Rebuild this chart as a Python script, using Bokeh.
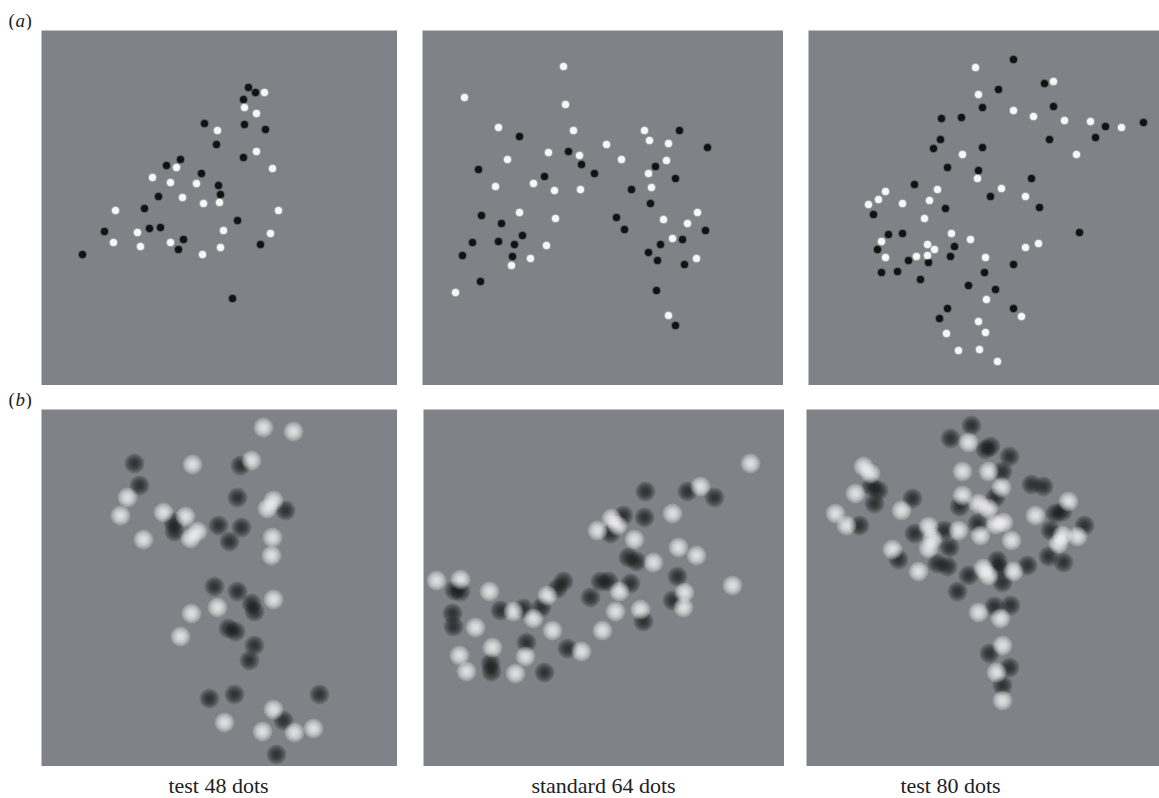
from bokeh.plotting import figure
from bokeh.layouts import column, row
from bokeh.models import Range1d, Spacer, ColumnDataSource
from bokeh.core.properties import value
from bokeh.embed import file_html
from bokeh.resources import INLINE

# ---------------- data: dot positions in panel pixels (x from left, y from top) -------------
a1_black = [(207,57),(214,62),(202,69),(203,94),(224,99),(163,93),(175,114),(202,127),(139,129),
            (125,135),(160,143),(177,155),(179,164),(117,166),(103,178),(196,190),(63,201),(108,198),
            (119,197),(142,209),(137,219),(219,214),(41,224),(191,268)]
a1_white = [(223,62),(203,77),(215,83),(176,100),(215,121),(231,138),(135,137),(111,147),(129,152),
            (155,153),(141,167),(162,173),(178,172),(74,180),(237,180),(182,200),(229,203),(96,202),
            (72,212),(129,212),(99,216),(179,217),(161,224)]

a2_white = [(141,36),(42,67),(143,74),(76,97),(151,100),(222,100),(227,110),(246,113),(184,114),
            (126,122),(157,125),(85,129),(199,129),(244,130),(226,143),(73,156),(111,153),(132,160),
            (158,159),(229,157),(97,182),(275,182),(133,188),(241,189),(265,193),(250,208),(124,215),
            (108,228),(274,228),(89,235),(33,262),(246,285)]
a2_black = [(257,100),(97,106),(285,117),(146,121),(159,134),(233,136),(56,139),(172,143),(122,146),
            (253,148),(209,159),(228,173),(59,185),(79,193),(194,187),(202,199),(283,200),(100,205),
            (50,212),(76,211),(92,214),(260,209),(238,214),(40,225),(90,226),(226,222),(235,230),
            (262,234),(58,251),(234,260),(253,295)]

a3_white = [(167,37),(245,51),(170,64),(205,80),(225,86),(256,90),(282,91),(313,97),(154,124),
            (268,124),(169,148),(193,158),(129,159),(217,166),(77,161),(70,169),(60,174),(94,173),
            (121,170),(116,188),(143,203),(162,209),(73,211),(119,214),(126,219),(230,213),(217,217),
            (77,227),(108,226),(119,225),(177,227),(178,269),(213,286),(170,291),(177,302),(138,303),
            (150,320),(171,319),(189,331)]
a3_black = [(205,29),(236,53),(190,59),(174,77),(245,76),(133,88),(153,87),(297,96),(335,92),
            (132,109),(125,118),(174,117),(241,109),(287,107),(139,137),(170,140),(223,148),(106,154),
            (182,166),(137,178),(231,177),(65,184),(80,204),(94,203),(271,202),(69,219),(146,216),
            (142,226),(100,230),(120,232),(205,234),(73,242),(89,241),(176,242),(112,249),(160,255),
            (187,259),(139,278),(131,288),(205,278)]

b1_white = [(222,18),(252,22),(151,55),(210,51),(86,88),(79,106),(122,103),(144,107),(102,130),
            (149,129),(156,122),(226,99),(232,91),(231,128),(230,146),(232,190),(176,198),(150,204),
            (139,227),(232,300),(183,313),(221,322),(253,323),(272,319)]
b1_black = [(93,54),(98,76),(199,56),(196,88),(244,101),(132,113),(133,122),(177,116),(200,118),
            (188,132),(173,177),(196,182),(210,194),(213,202),(187,219),(194,222),(213,236),(208,251),
            (168,289),(193,285),(278,285),(242,311),(235,345)]

b2_white = [(327,54),(277,77),(249,104),(188,109),(194,116),(174,121),(211,130),(255,138),(273,146),
            (230,153),(309,176),(13,171),(37,170),(66,182),(196,182),(261,183),(260,198),(217,200),
            (192,202),(124,186),(90,202),(110,209),(52,218),(129,221),(179,221),(69,238),(36,246),
            (102,247),(158,242),(43,262),(92,264)]
b2_black = [(222,82),(264,82),(291,88),(200,106),(221,108),(187,124),(205,148),(213,152),(254,167),
            (140,172),(134,179),(177,172),(185,172),(207,174),(167,188),(249,191),(37,182),(31,181),
            (118,198),(100,199),(77,201),(29,204),(30,217),(220,212),(103,233),(144,239),(67,254),
            (68,262),(121,263)]

b3_black = [(165,16),(144,29),(179,40),(184,37),(203,47),(196,62),(225,75),(237,77),(72,81),(65,77),
            (68,94),(106,89),(189,88),(153,97),(249,104),(256,102),(53,116),(171,114),(108,124),
            (138,121),(244,121),(278,116),(143,138),(92,150),(131,154),(141,157),(191,151),(193,159),
            (221,156),(242,147),(257,153),(162,166),(196,173),(151,182),(188,197),(204,196),(183,244),
            (203,258),(196,276)]
b3_white = [(162,33),(57,57),(64,64),(49,84),(29,104),(40,116),(95,101),(156,62),(182,62),(195,78),
            (156,86),(172,94),(182,99),(229,106),(262,92),(189,115),(197,113),(122,117),(126,129),
            (152,121),(174,126),(205,131),(256,126),(252,134),(271,127),(122,139),(86,140),(112,162),
            (177,159),(182,166),(207,162),(172,203),(194,209),(196,236),(190,263),(196,291)]

row_labels = ["(", "a", ")"]
row_labels_b = ["(", "b", ")"]
captions = ["test 48 dots", "standard 64 dots", "test 80 dots"]

# ---------------- styling -------------
BG = "#818287"
DARK = "#121212"
LIGHT = "#f7f7f7"
FONT = "Liberation Serif"
FULL_W = 1159


def panel(w, h):
    p = figure(width=w, height=h, x_range=Range1d(0, w), y_range=Range1d(h, 0),
               toolbar_location=None, output_backend="svg", min_border=0,
               x_axis_location=None, y_axis_location=None,
               background_fill_color=BG, border_fill_color=BG, outline_line_color=None)
    p.grid.visible = False
    return p


def xs(pts):
    return [q[0] for q in pts]


def ys(pts):
    return [q[1] for q in pts]


def sharp(p, black, white):
    for pts, col in ((black, DARK), (white, LIGHT)):
        src = ColumnDataSource(dict(x=xs(pts), y=ys(pts)))
        p.scatter("x", "y", source=src, size=9, fill_color=col, fill_alpha=0.3, line_color=None)
        p.scatter("x", "y", source=src, size=7, fill_color=col, line_color=None)


def blurred(p, black, white):
    for pts, col in ((black, "#1a1a1a"), (white, "#ffffff")):
        src = ColumnDataSource(dict(x=xs(pts), y=ys(pts)))
        for s in (20, 17, 14, 11, 8, 5):
            p.scatter("x", "y", source=src, size=s, fill_color=col, fill_alpha=0.2, line_color=None)


def strip(h):
    # y measured upward from the strip's bottom edge
    p = figure(width=FULL_W, height=h, x_range=Range1d(0, FULL_W), y_range=Range1d(0, h),
               toolbar_location=None, output_backend="svg", min_border=0,
               x_axis_location=None, y_axis_location=None,
               background_fill_color="white", border_fill_color="white", outline_line_color=None)
    p.grid.visible = False
    return p


def tag(p, chars, mid_y):
    # "(" upright, letter italic, ")" upright
    kw = dict(text_font=value(FONT), text_font_size="19px", text_baseline="middle",
              text_color="#222222")
    p.text(x=[8], y=[mid_y], text=[chars[0]], **kw)
    p.text(x=[15], y=[mid_y], text=[chars[1]], text_font_style="italic", **kw)
    p.text(x=[25], y=[mid_y], text=[chars[2]], **kw)


top = strip(30)
tag(top, row_labels, 10)

pa1, pa2, pa3 = panel(356, 355), panel(361, 355), panel(351, 355)
sharp(pa1, a1_black, a1_white)
sharp(pa2, a2_black, a2_white)
sharp(pa3, a3_black, a3_white)

mid = strip(24)
tag(mid, row_labels_b, 10)

pb1, pb2, pb3 = panel(356, 357), panel(361, 357), panel(353, 357)
blurred(pb1, b1_black, b1_white)
blurred(pb2, b2_black, b2_white)
blurred(pb3, b3_black, b3_white)

bot = strip(32)
bot.text(x=[218, 603, 950], y=[13, 13, 13], text=captions, text_font=value(FONT),
         text_font_size="22px", text_align="center", text_baseline="middle",
         text_color="#222222")

layout = column(
    top,
    row(Spacer(width=41, height=355), pa1, Spacer(width=25, height=355), pa2,
        Spacer(width=25, height=355), pa3),
    mid,
    row(Spacer(width=41, height=357), pb1, Spacer(width=26, height=357), pb2,
        Spacer(width=22, height=357), pb3),
    bot,
)

open("out.html", "w").write(file_html(layout, INLINE))
